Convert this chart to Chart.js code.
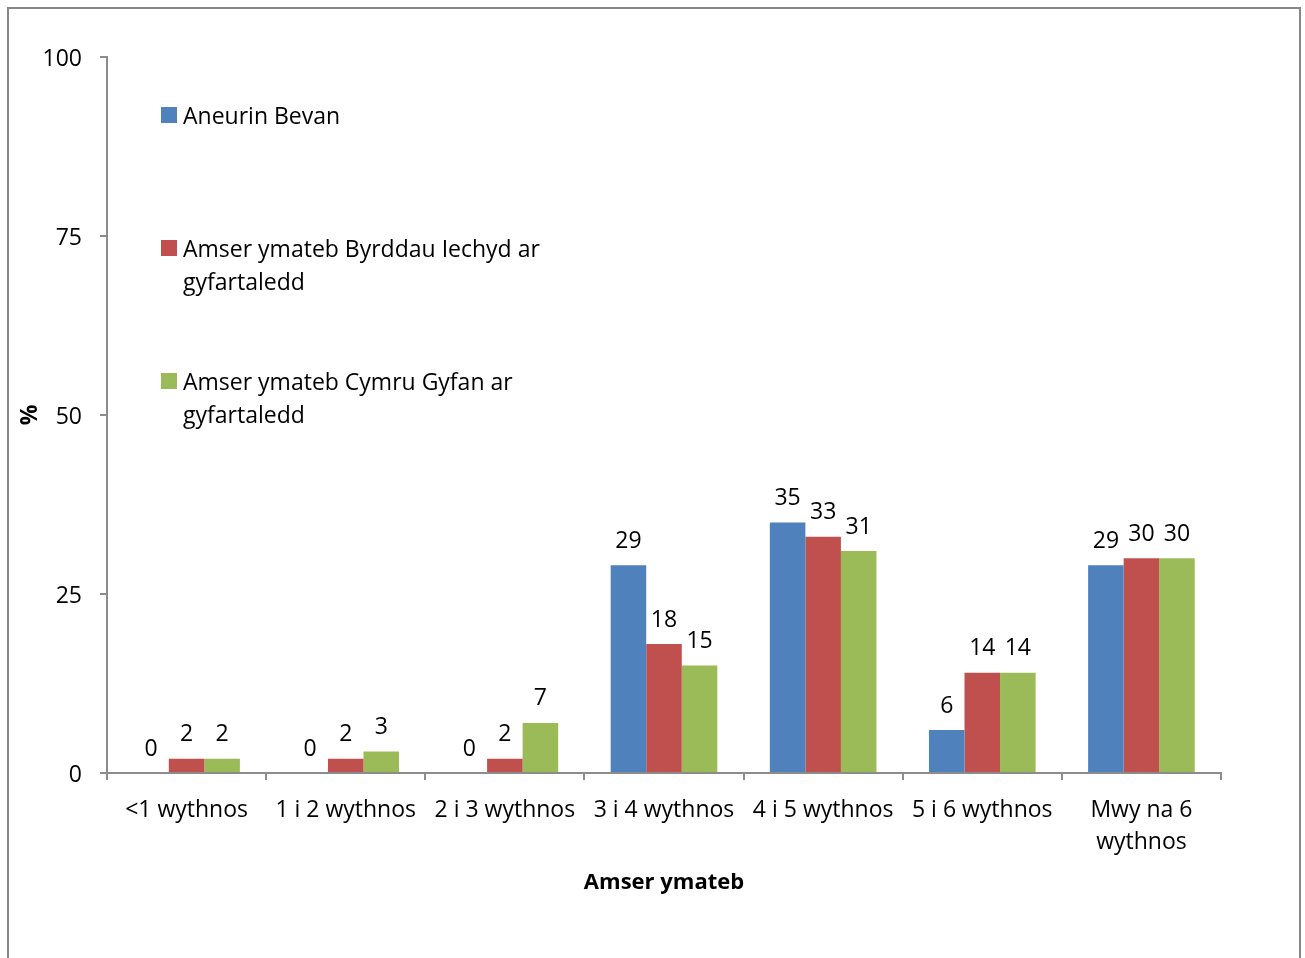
<!DOCTYPE html>
<html>
<head>
<meta charset="utf-8">
<style>
  html, body { margin: 0; padding: 0; background: #ffffff; }
  #wrap { position: relative; width: 1305px; height: 958px; overflow: hidden; }
  canvas { display: block; }
</style>
<script src="https://cdn.jsdelivr.net/npm/chart.js@4/dist/chart.umd.min.js"></script>
</head>
<body>
<div id="wrap"><canvas id="chart" width="1305" height="958"></canvas></div>
<script>
// Response-time categories (x axis)
const categories = [
  "<1 wythnos",
  "1 i 2 wythnos",
  "2 i 3 wythnos",
  "3 i 4 wythnos",
  "4 i 5 wythnos",
  "5 i 6 wythnos",
  ["Mwy na 6", "wythnos"]
];

// Percentages per series
const aneurinBevan  = [0, 0, 0, 29, 35, 6, 29];
const byrddauIechyd = [2, 2, 2, 18, 33, 14, 30];
const cymruGyfan    = [2, 3, 7, 15, 31, 14, 30];

// Series names (wrapped as shown in the key)
const seriesNames = [
  ["Aneurin Bevan"],
  ["Amser ymateb Byrddau Iechyd ar", "gyfartaledd"],
  ["Amser ymateb Cymru Gyfan ar", "gyfartaledd"]
];

// Y axis ticks
const yTicks = [0, 25, 50, 75, 100];

const FONT = "'Open Sans', 'DejaVu Sans', sans-serif";
const FS = 23;
const AXIS_GREY = "#8c8c8c";
const colours = ["#4F81BD", "#C0504D", "#9BBB59"];

// Value labels above each bar
const valueLabels = {
  id: "valueLabels",
  afterDatasetsDraw(chart) {
    const ctx = chart.ctx;
    ctx.save();
    ctx.font = FS + "px " + FONT;
    ctx.fillStyle = "#000";
    ctx.textAlign = "center";
    ctx.textBaseline = "middle";
    chart.data.datasets.forEach((ds, i) => {
      const meta = chart.getDatasetMeta(i);
      meta.data.forEach((bar, j) => {
        ctx.fillText(String(ds.data[j]), bar.x, bar.y - 24);
      });
    });
    ctx.restore();
  }
};

// Key drawn inside the plot area, with wrapped names
const insideKey = {
  id: "insideKey",
  afterDraw(chart) {
    const ctx = chart.ctx;
    ctx.save();
    ctx.font = FS + "px " + FONT;
    ctx.textAlign = "left";
    ctx.textBaseline = "middle";
    const x0 = 161, box = 16, textX = 183, firstY = 115, itemGap = 133, lineGap = 33;
    chart.data.datasets.forEach((ds, i) => {
      const y = firstY + i * itemGap;
      ctx.fillStyle = ds.backgroundColor;
      ctx.fillRect(x0, y - box / 2, box, box);
      ctx.fillStyle = "#000";
      const lines = Array.isArray(ds.label) ? ds.label : [ds.label];
      lines.forEach((ln, k) => ctx.fillText(ln, textX, y + 2 + k * lineGap));
    });
    ctx.restore();
  }
};

// Outer frame of the chart
const frame = {
  id: "frame",
  afterDraw(chart) {
    const ctx = chart.ctx;
    ctx.save();
    ctx.strokeStyle = "#878787";
    ctx.lineWidth = 2;
    ctx.strokeRect(8, 8, 1292, 1000);
    ctx.restore();
  }
};

new Chart(document.getElementById("chart"), {
  type: "bar",
  data: {
    labels: categories,
    datasets: [
      { label: seriesNames[0], data: aneurinBevan,  backgroundColor: colours[0] },
      { label: seriesNames[1], data: byrddauIechyd, backgroundColor: colours[1] },
      { label: seriesNames[2], data: cymruGyfan,    backgroundColor: colours[2] }
    ]
  },
  options: {
    responsive: false,
    devicePixelRatio: 1,
    animation: false,
    layout: { padding: { top: 57, right: 84, bottom: 0, left: 0 } },
    datasets: { bar: { categoryPercentage: 0.67, barPercentage: 1.0 } },
    plugins: {
      legend: { display: false },
      tooltip: { enabled: false }
    },
    scales: {
      x: {
        grid: { display: true, drawOnChartArea: false, drawTicks: true, tickLength: 7, tickColor: AXIS_GREY, lineWidth: 2, offset: true },
        border: { display: true, color: AXIS_GREY, width: 2 },
        ticks: { color: "#000", padding: 14, maxRotation: 0, autoSkip: false, font: { family: FONT, size: FS, lineHeight: 32 / FS } },
        title: { display: true, text: "Amser ymateb", color: "#000", font: { family: FONT, size: 22, weight: "bold", lineHeight: 1.2 }, padding: { top: 0, bottom: 62 } },
        afterFit(scale) { scale.height = 185; }
      },
      y: {
        min: 0,
        max: 100,
        afterBuildTicks(scale) { scale.ticks = yTicks.map(v => ({ value: v })); },
        grid: { display: true, drawOnChartArea: false, drawTicks: true, tickLength: 7, tickColor: AXIS_GREY, lineWidth: 2 },
        border: { display: true, color: AXIS_GREY, width: 2 },
        ticks: { color: "#000", padding: 18, labelOffset: 2, font: { family: FONT, size: FS } },
        title: { display: true, text: "%", color: "#000", font: { family: FONT, size: FS, weight: "bold", lineHeight: 1.2 }, padding: { top: 17, bottom: 0 } },
        afterFit(scale) { scale.width = 107; }
      }
    }
  },
  plugins: [valueLabels, insideKey, frame]
});
</script>
</body>
</html>
